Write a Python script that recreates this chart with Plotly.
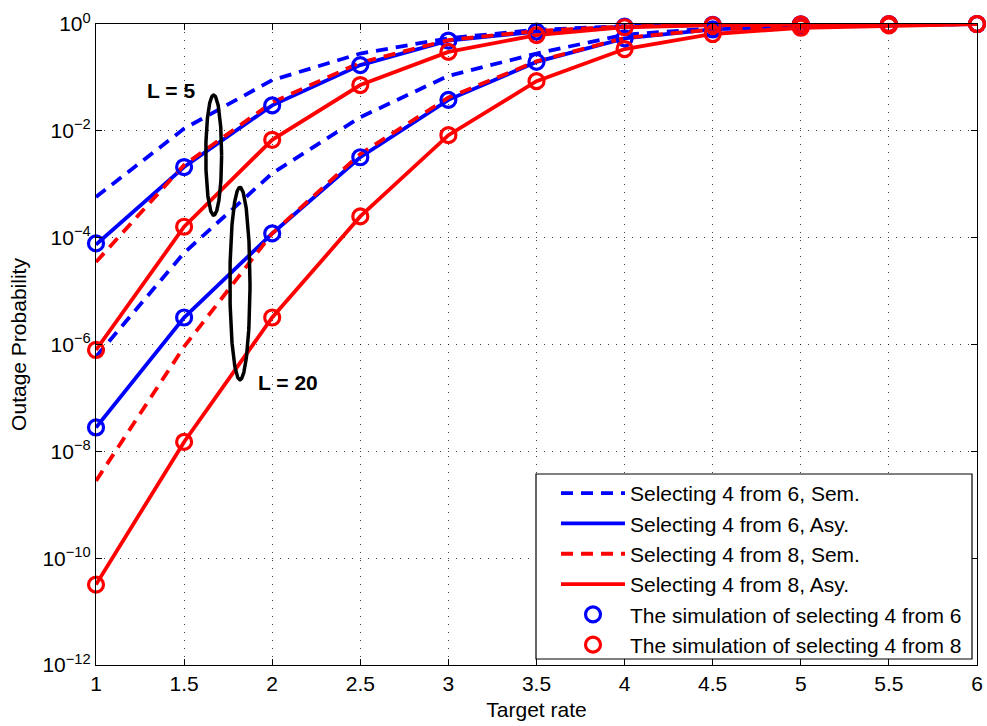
import numpy as np
import plotly.graph_objects as go

# Target rate (x axis)
rate = [1, 1.5, 2, 2.5, 3, 3.5, 4, 4.5, 5, 5.5, 6]

# L = 5 curves
sem6_L5 = [5.8e-4, 1.1e-2, 8.9e-2, 0.28, 0.54, 0.78, 0.91, 0.98, 0.99, 1.0, 1.0]
asy6_L5 = [7.4e-5, 2.1e-3, 3.0e-2, 0.17, 0.49, 0.72, 0.89, 0.966, 0.99, 0.998, 1.0]
sem8_L5 = [3.5e-5, 2.3e-3, 3.4e-2, 0.19, 0.50, 0.74, 0.90, 0.966, 0.99, 0.998, 1.0]
asy8_L5 = [7.9e-7, 1.6e-4, 6.8e-3, 7.2e-2, 0.30, 0.62, 0.87, 0.95, 0.98, 0.995, 1.0]
sim6_L5 = [7.8e-5, 2.1e-3, 3.0e-2, 0.17, 0.49, 0.72, 0.89, 0.966, 0.99, 0.998, 1.0]
sim8_L5 = [7.9e-7, 1.6e-4, 6.8e-3, 7.2e-2, 0.30, 0.62, 0.87, 0.95, 0.98, 0.995, 1.0]

# L = 20 curves
sem6_L20 = [5.9e-7, 5.2e-5, 1.6e-3, 1.8e-2, 0.107, 0.28, 0.63, 0.83, 0.93, 0.98, 1.0]
asy6_L20 = [2.8e-8, 3.2e-6, 1.2e-4, 3.2e-3, 3.8e-2, 0.195, 0.54, 0.79, 0.91, 0.966, 1.0]
sem8_L20 = [2.8e-9, 9.1e-7, 1.2e-4, 3.7e-3, 4.2e-2, 0.20, 0.55, 0.79, 0.91, 0.966, 1.0]
asy8_L20 = [3.2e-11, 1.5e-8, 3.2e-6, 2.5e-4, 8.3e-3, 8.5e-2, 0.34, 0.65, 0.85, 0.94, 1.0]
sim6_L20 = [2.8e-8, 3.2e-6, 1.2e-4, 3.2e-3, 3.8e-2, 0.195, 0.54, 0.79, 0.91, 0.966, 1.0]
sim8_L20 = [3.2e-11, 1.5e-8, 3.2e-6, 2.5e-4, 8.3e-3, 8.5e-2, 0.34, 0.65, 0.85, 0.94, 1.0]

legend_names = [
    "Selecting 4 from 6, Sem.",
    "Selecting 4 from 6, Asy.",
    "Selecting 4 from 8, Sem.",
    "Selecting 4 from 8, Asy.",
    "The simulation of selecting 4 from 6",
    "The simulation of selecting 4 from 8",
]

ytick_exp = [0, -2, -4, -6, -8, -10, -12]
xtick_vals = [1, 1.5, 2, 2.5, 3, 3.5, 4, 4.5, 5, 5.5, 6]
xtick_text = ["1", "1.5", "2", "2.5", "3", "3.5", "4", "4.5", "5", "5.5", "6"]

BLUE = "#0000FF"
RED = "#FF0000"
FONT = "Liberation Sans, Arial, sans-serif"
DASH = "12px,8px"
FS = 21


def join(a, b):
    return list(a) + [None] + list(b)


xx = join(rate, rate)

fig = go.Figure()

line_specs = [
    (sem6_L5, sem6_L20, BLUE, DASH, legend_names[0]),
    (asy6_L5, asy6_L20, BLUE, "solid", legend_names[1]),
    (sem8_L5, sem8_L20, RED, DASH, legend_names[2]),
    (asy8_L5, asy8_L20, RED, "solid", legend_names[3]),
]
for i, (a, b, col, dash, name) in enumerate(line_specs):
    fig.add_trace(go.Scatter(
        x=xx, y=join(a, b), mode="lines", name=name,
        line=dict(color=col, width=3.8, dash=dash),
        connectgaps=False, legendgroup=f"g{i}", cliponaxis=False,
    ))

for j, (a, b, col, name) in enumerate([
    (sim6_L5, sim6_L20, BLUE, legend_names[4]),
    (sim8_L5, sim8_L20, RED, legend_names[5]),
]):
    fig.add_trace(go.Scatter(
        x=xx, y=join(a, b), mode="markers", name=name,
        marker=dict(symbol="circle-open", size=15, color=col,
                    line=dict(color=col, width=3.2)),
        legendgroup=f"m{j}", cliponaxis=False,
    ))

# Ellipses grouping the curves (annotation geometry, in log10 space)
ellipses = [
    # (x centre, x half-width, log10 y centre, log10 half-height)
    (1.668, 0.045, -2.455, 1.125),
    (1.817, 0.057, -4.86, 1.80),
]
t = np.linspace(0, 2 * np.pi, 200)
for (cx, ax_, cy, by) in ellipses:
    fig.add_trace(go.Scatter(
        x=cx + ax_ * np.cos(t), y=10 ** (cy + by * np.sin(t)),
        mode="lines", line=dict(color="black", width=3.5),
        showlegend=False, hoverinfo="skip",
    ))

fig.add_annotation(x=1.426, y=-1.245, xref="x", yref="y", text="<b>L = 5</b>",
                   showarrow=False, font=dict(size=21, color="black", family=FONT))
fig.add_annotation(x=2.09, y=-6.72, xref="x", yref="y", text="<b>L = 20</b>",
                   showarrow=False, font=dict(size=21, color="black", family=FONT))

# Legend frame (paper-space box so the legend keeps MATLAB-style padding)
fig.add_shape(type="rect", xref="paper", yref="paper",
              x0=(536 - 96) / 881, x1=(972 - 96) / 881,
              y0=(665 - 659) / 641, y1=(665 - 474) / 641,
              fillcolor="white", line=dict(color="black", width=1.2), layer="above")

grid_common = dict(
    showgrid=True, gridcolor="rgba(0,0,0,0.75)", gridwidth=1, griddash="1px,7px",
    showline=True, linecolor="black", linewidth=1.2, mirror="ticks",
    ticks="inside", ticklen=6, tickcolor="black", zeroline=False, automargin=False,
    tickfont=dict(size=FS, color="black", family=FONT),
)

fig.update_xaxes(
    range=[1, 6], tickvals=xtick_vals, ticktext=xtick_text,
    title=dict(text="Target rate", font=dict(size=FS, color="black", family=FONT), standoff=8),
    **grid_common,
)
fig.update_yaxes(
    type="log", range=[-12, 0],
    tickvals=[10.0 ** e for e in ytick_exp],
    ticktext=[f"10<sup>{str(e).replace('-', '−')}</sup>" for e in ytick_exp],
    title=dict(text="Outage Probability", font=dict(size=FS, color="black", family=FONT), standoff=10),
    **grid_common,
)

fig.update_layout(
    width=987, height=726,
    margin=dict(l=96, r=10, t=24, b=61),
    paper_bgcolor="white", plot_bgcolor="white",
    font=dict(family=FONT, color="black", size=FS),
    legend=dict(
        x=(556 - 96) / 881, y=(665 - 473) / 641, xanchor="left", yanchor="top",
        bgcolor="rgba(0,0,0,0)", borderwidth=0,
        font=dict(size=FS, color="black", family=FONT),
        tracegroupgap=0, traceorder="grouped", itemwidth=64,
    ),
    showlegend=True,
)

# Remove the default page margin so the 987x726 figure fills the window exactly
fig.write_html(
    "out.html",
    config={"displayModeBar": False},
    post_script="document.body.style.margin='0';document.body.style.overflow='hidden';",
)
